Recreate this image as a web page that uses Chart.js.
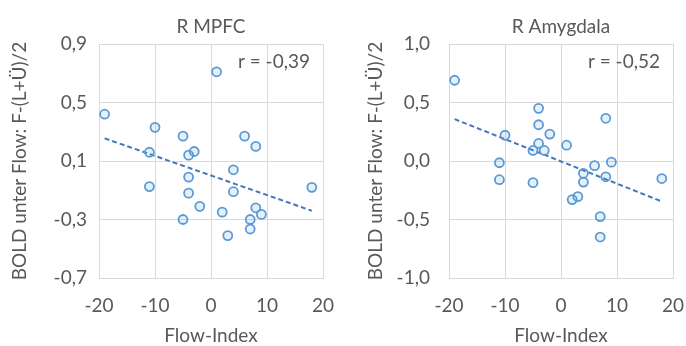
<!DOCTYPE html>
<html>
<head>
<meta charset="utf-8">
<script src="https://cdn.jsdelivr.net/npm/chart.js@4/dist/chart.umd.min.js"></script>
<style>
  html, body { margin: 0; padding: 0; background: #fff; }
  #wrap { position: relative; width: 686px; height: 346px; overflow: hidden; }
  #c1 { position: absolute; left: 0; top: 0; }
  #c2 { position: absolute; left: 343px; top: 0; }
</style>
</head>
<body>
<div id="wrap">
  <canvas id="c1" width="343" height="360"></canvas>
  <canvas id="c2" width="360" height="360"></canvas>
</div>
<script>
// Flow-Index je Proband (gleiche x-Werte in beiden Diagrammen)
var flowIndex = [-19, -11, -11, -10, -5, -5, -4, -4, -4, -3, -2, 1, 2, 3, 4, 4, 6, 7, 7, 8, 8, 9, 18];
var mpfcBold = [0.42, 0.16, -0.075, 0.33, 0.27, -0.30, 0.14, -0.01, -0.12, 0.165, -0.21, 0.71, -0.25, -0.41, 0.04, -0.11, 0.27, -0.30, -0.365, 0.20, -0.22, -0.265, -0.08];
var amyBold = [0.69, -0.015, -0.16, 0.22, 0.09, -0.185, 0.45, 0.31, 0.15, 0.09, 0.23, 0.135, -0.33, -0.305, -0.105, -0.18, -0.04, -0.475, -0.65, 0.365, -0.135, -0.01, -0.15];

// Trendlinien (Endpunkte)
var trendX = [-19, 18];
var mpfcTrend = [0.255, -0.24];
var amyTrend = [0.358, -0.346];

// Achsenbeschriftung
var xTicks = [-20, -10, 0, 10, 20];
var mpfcTicks = [-0.7, -0.3, 0.1, 0.5, 0.9];
var amyTicks = [-1.0, -0.5, 0.0, 0.5, 1.0];

var textColor = '#595959';
var gridColor = '#d9d9d9';
var fontFam = 'Lato, "Open Sans", sans-serif';
var fs = 19;

function komma(v) {
	return Number(v).toFixed(1).replace('.', ',');
}

// r-Wert oben rechts im Plotbereich
var rLabel = {
	id: 'rLabel',
	afterDatasetsDraw: function (chart, args, opts) {
		var a = chart.chartArea;
		var ctx = chart.ctx;
		ctx.save();
		ctx.font = fs + 'px ' + fontFam;
		ctx.fillStyle = textColor;
		ctx.textAlign = 'right';
		ctx.textBaseline = 'middle';
		ctx.fillText(opts.text, a.right - 13, a.top + 18);
		ctx.restore();
	}
};

function grafico(id, titel, yWerte, trendY, yTicks, rText, yBreite, yTitelPad, yTickPad) {
	var punkte = [];
	for (var i = 0; i < flowIndex.length; i++) {
		punkte.push({ x: flowIndex[i], y: yWerte[i] });
	}
	var linie = [];
	for (var j = 0; j < trendX.length; j++) {
		linie.push({ x: trendX[j], y: trendY[j] });
	}

	var ctx = document.getElementById(id).getContext('2d');
	return new Chart(ctx, {
		type: 'scatter',
		data: {
			datasets: [{
				data: punkte,
				pointRadius: 4.5,
				pointBorderWidth: 1.8,
				borderColor: '#5b9bd5',
				backgroundColor: 'rgba(91,155,213,0.15)',
				order: 1
			}, {
				type: 'line',
				data: linie,
				borderColor: '#4477bb',
				borderWidth: 2,
				borderDash: [5, 3],
				pointRadius: 0,
				fill: false,
				order: 2
			}]
		},
		options: {
			responsive: false,
			animation: false,
			devicePixelRatio: 1,
			layout: { padding: { left: 0, right: id === 'c1' ? 20 : 30, top: 0, bottom: 0 } },
			plugins: {
				legend: { display: false },
				tooltip: { enabled: false },
				title: {
					display: true,
					text: titel,
					fullSize: false,
					color: textColor,
					font: { family: fontFam, size: fs, weight: 'normal' },
					padding: { top: 15.6, bottom: 5.6 }
				},
				rLabel: { text: rText }
			},
			scales: {
				x: {
					type: 'linear',
					min: xTicks[0],
					max: xTicks[xTicks.length - 1],
					afterBuildTicks: function (s) {
						s.ticks = xTicks.map(function (v) { return { value: v }; });
					},
					afterFit: function (s) {
						s.height = 82;
						// Platz rechts kommt aus layout.padding
						s.paddingRight = 0;
					},
					grid: { color: gridColor, drawTicks: false },
					border: { color: gridColor },
					ticks: {
						color: textColor,
						padding: 16.5,
						font: { family: fontFam, size: fs },
						callback: function (v) { return String(v); }
					},
					title: {
						display: true,
						text: 'Flow-Index',
						color: textColor,
						font: { family: fontFam, size: fs },
						padding: { top: 0, bottom: 12.5 }
					}
				},
				y: {
					type: 'linear',
					min: yTicks[0],
					max: yTicks[yTicks.length - 1],
					afterBuildTicks: function (s) {
						s.ticks = yTicks.map(function (v) { return { value: v }; });
					},
					afterFit: function (s) { s.width = yBreite; },
					grid: { color: gridColor, drawTicks: false },
					border: { color: gridColor },
					ticks: {
						color: textColor,
						padding: yTickPad,
						font: { family: fontFam, size: fs },
						callback: function (v) { return komma(v); }
					},
					title: {
						display: true,
						text: 'BOLD unter Flow: F-(L+Ü)/2',
						color: textColor,
						font: { family: fontFam, size: fs },
						padding: { top: yTitelPad, bottom: 0 }
					}
				}
			}
		},
		plugins: [rLabel]
	});
}

grafico('c1', 'R MPFC', mpfcBold, mpfcTrend, mpfcTicks, 'r = -0,39', 99, 8.6, 12);
grafico('c2', 'R Amygdala', amyBold, amyTrend, amyTicks, 'r = -0,52', 106, 21.6, 19);
</script>
</body>
</html>
